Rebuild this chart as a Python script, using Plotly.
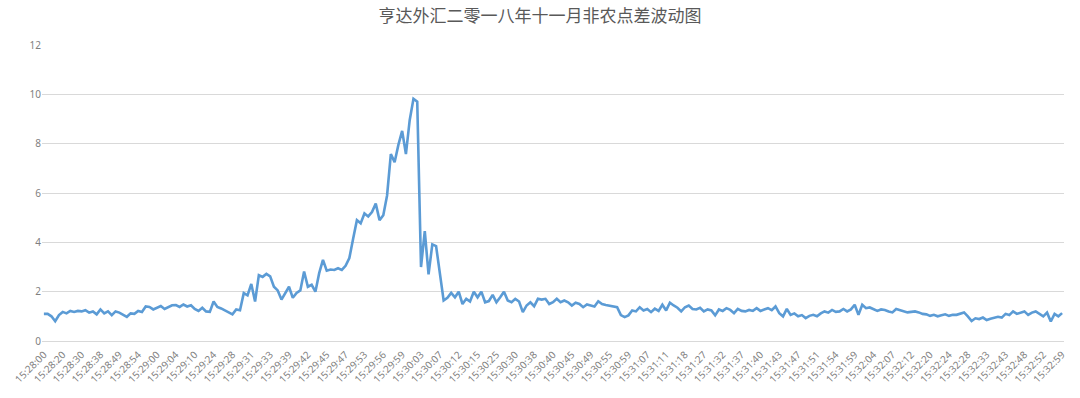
import plotly.graph_objects as go

title_text = "亨达外汇二零一八年十一月非农点差波动图"

tick_labels = [
    "15:28:00", "15:28:20", "15:28:30", "15:28:38", "15:28:49", "15:28:54",
    "15:29:00", "15:29:04", "15:29:10", "15:29:24", "15:29:28", "15:29:31",
    "15:29:33", "15:29:39", "15:29:42", "15:29:45", "15:29:47", "15:29:53",
    "15:29:56", "15:29:59", "15:30:03", "15:30:07", "15:30:12", "15:30:15",
    "15:30:25", "15:30:30", "15:30:38", "15:30:40", "15:30:45", "15:30:49",
    "15:30:55", "15:30:59", "15:31:07", "15:31:11", "15:31:18", "15:31:27",
    "15:31:32", "15:31:37", "15:31:40", "15:31:43", "15:31:47", "15:31:51",
    "15:31:54", "15:31:59", "15:32:04", "15:32:07", "15:32:12", "15:32:20",
    "15:32:24", "15:32:28", "15:32:33", "15:32:43", "15:32:48", "15:32:52",
    "15:32:59",
]

spread_part1 = [
    1.10, 1.10, 1.00, 0.80, 1.05, 1.18, 1.12, 1.22, 1.18, 1.22,
    1.20, 1.25, 1.15, 1.20, 1.08, 1.28, 1.12, 1.20, 1.05, 1.20,
    1.15, 1.05, 0.98, 1.12, 1.10, 1.22, 1.18, 1.40, 1.38, 1.28,
    1.35, 1.42, 1.30, 1.38, 1.45, 1.46, 1.38, 1.48, 1.40, 1.45,
    1.30, 1.22, 1.35, 1.20, 1.18, 1.60, 1.38, 1.32, 1.25, 1.15,
    1.08, 1.28, 1.25, 1.94, 1.85, 2.31, 1.60, 2.67, 2.60, 2.72,
    2.62, 2.20, 2.05, 1.68, 1.95, 2.20, 1.75, 1.95, 2.05, 2.82,
    2.20, 2.28, 2.00, 2.75, 3.29, 2.85, 2.90, 2.88, 2.95, 2.88,
    3.05, 3.36, 4.15, 4.90, 4.77, 5.17, 5.05, 5.23, 5.57, 4.90,
]

spread_part2 = [
    5.10, 5.90, 7.58, 7.25, 7.95, 8.52, 7.58, 8.95, 9.82, 9.70,
    3.00, 4.45, 2.70, 3.92, 3.85, 2.84, 1.64, 1.75, 1.95, 1.77,
    2.00, 1.50, 1.71, 1.60, 2.00, 1.77, 2.00, 1.57, 1.62, 1.87,
    1.57, 1.77, 2.00, 1.64, 1.57, 1.71, 1.60, 1.17, 1.44, 1.57,
    1.41, 1.71, 1.68, 1.71, 1.50, 1.57, 1.71, 1.57, 1.64, 1.57,
    1.44, 1.55, 1.50, 1.37, 1.48, 1.44, 1.40, 1.61, 1.50, 1.46,
    1.44, 1.40, 1.37, 1.05, 0.97, 1.04, 1.24, 1.20, 1.37, 1.24,
    1.30, 1.17, 1.31, 1.22, 1.47, 1.24, 1.55, 1.44, 1.35, 1.20,
    1.37, 1.44, 1.30, 1.28, 1.35, 1.20, 1.28, 1.24, 1.04, 1.28,
]

spread_part3 = [
    1.22, 1.33, 1.26, 1.13, 1.30, 1.22, 1.20, 1.26, 1.22, 1.33,
    1.22, 1.28, 1.33, 1.25, 1.40, 1.13, 1.00, 1.30, 1.06, 1.12,
    1.00, 1.05, 0.93, 1.02, 1.06, 1.00, 1.12, 1.20, 1.15, 1.26,
    1.18, 1.20, 1.30, 1.20, 1.28, 1.47, 1.06, 1.47, 1.33, 1.36,
    1.30, 1.22, 1.28, 1.26, 1.20, 1.16, 1.30, 1.25, 1.20, 1.16,
    1.18, 1.20, 1.16, 1.10, 1.08, 1.02, 1.06, 1.00, 1.04, 1.08,
    1.02, 1.06, 1.06, 1.10, 1.16, 1.00, 0.81, 0.92, 0.89, 0.95,
    0.85, 0.90, 0.93, 0.98, 0.95, 1.10, 1.05, 1.20, 1.10, 1.15,
    1.20, 1.06, 1.15, 1.20, 1.10, 1.00, 1.15, 0.79, 1.10, 1.00,
    1.13,
]

spread = spread_part1 + spread_part2 + spread_part3
x_idx = list(range(len(spread)))
step = (len(spread) - 1) // (len(tick_labels) - 1)
tick_vals = [i * step for i in range(len(tick_labels))]

fig = go.Figure()
fig.add_trace(go.Scatter(
    x=x_idx, y=spread, mode="lines",
    line=dict(color="#5B9BD5", width=2.6),
    hoverinfo="y",
))

fig.update_layout(
    width=1080, height=398,
    margin=dict(l=42, r=14, t=45, b=55),
    paper_bgcolor="white", plot_bgcolor="white",
    showlegend=False,
    title=dict(
        text=title_text, x=0.5, xanchor="center", y=0.96, yanchor="middle",
        font=dict(family="Noto Sans CJK SC", size=17, color="#595959"),
    ),
    font=dict(family="Noto Sans, Noto Sans CJK SC", color="#808080"),
)

fig.update_xaxes(
    range=[-0.5, len(spread) - 0.5],
    tickmode="array", tickvals=tick_vals, ticktext=tick_labels,
    tickangle=-45, tickfont=dict(size=10, color="#7F7F7F"),
    ticklabelstandoff=3,
    showgrid=False, zeroline=False,
    showline=True, linecolor="#D9D9D9", linewidth=1, ticks="",
)
fig.update_yaxes(
    range=[0, 12], dtick=2, tick0=0,
    tickfont=dict(size=10, color="#7F7F7F"),
    showgrid=True, gridcolor="#D9D9D9", gridwidth=1,
    zeroline=False, showline=False, ticks="",
)

fig.write_html("out.html")
